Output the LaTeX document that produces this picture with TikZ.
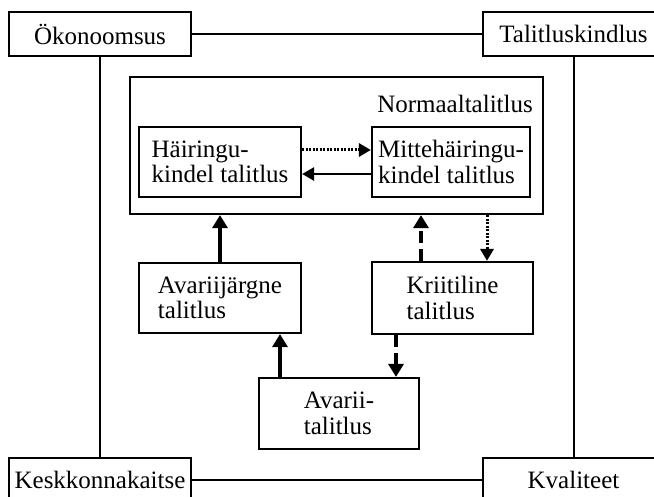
\documentclass[tikz,border=0pt]{standalone}
\usepackage{fontspec}
\setmainfont{Liberation Serif}
\usetikzlibrary{arrows.meta,calc}

\tikzset{
  labelfont/.style={font=\fontsize{25}{25.5}\selectfont},
  box/.style={draw, line width=2.2pt, inner sep=0pt, align=left, labelfont},
  link/.style={line width=2pt},
  bigtip/.style={-{Triangle[width=15pt,length=13pt]}},
  smalltip/.style={-{Triangle[width=13pt,length=12pt]}},
  strong/.style={bigtip, line width=4pt},
  strongdash/.style={bigtip, line width=4pt, dash pattern=on 12pt off 6pt},
  fine/.style={smalltip, line width=2.6pt},
  finedot/.style={smalltip, line width=3pt, dash pattern=on 2pt off 1.5pt},
}

\begin{document}
\begin{tikzpicture}[x=1pt,y=-1pt]
  \useasboundingbox (0,0) rectangle (654,497);
  \fill[white] (0,0) rectangle (654,497);
  \clip (0,0) rectangle (654,497);

  % quality attributes in the corners
  \node[box, minimum width=182pt, minimum height=44pt] (oko) at (100,34) {Ökonoomsus};
  \node[box, minimum width=181pt, minimum height=44pt] (tal) at (573.5,34) {Talitluskindlus};
  \node[box, minimum width=182pt, minimum height=44pt] (kesk) at (100,480) {Keskkonnakaitse};
  \node[box, minimum width=181pt, minimum height=44pt] (kval) at (573.5,480) {Kvaliteet};

  \draw[link] (oko.east) -- (tal.west);
  \draw[link] (kesk.east) -- (kval.west);
  \draw[link] (oko.south) -- (kesk.north);
  \draw[link] (tal.south) -- (kval.north);

  % normal operation with its two sub-states
  \node[box, minimum width=413pt, minimum height=137pt] (normal) at (336.5,145.5) {};
  \node[labelfont, anchor=east, inner sep=0pt] (normlabel) at (533,104) {Normaaltalitlus};
  \node[box, minimum width=162pt, minimum height=70pt] (hair) at (220,162) {Häiringu-\\kindel talitlus};
  \node[box, minimum width=158pt, minimum height=70pt] (mitte) at (451,162) {Mittehäiringu-\\kindel talitlus};

  % other operating states
  \node[box, minimum width=162pt, minimum height=70pt] (avj) at (220,298) {Avariijärgne\\talitlus};
  \node[box, minimum width=161pt, minimum height=72pt] (krit) at (452.5,298) {Kriitiline\\talitlus};
  \node[box, minimum width=160pt, minimum height=71pt] (avarii) at (339,413.5) {Avarii-\\talitlus};

  % transitions
  \draw[finedot] ([yshift=12pt]hair.east) -- ([yshift=12pt]hair.east -| mitte.west);
  \draw[fine] ([yshift=-12pt]mitte.west) -- ([yshift=-12pt]mitte.west -| hair.east);

  \draw[strong] (avj.north) -- (avj.north |- normal.south);
  \draw[strongdash] ([xshift=-31.5pt]krit.north) -- ([xshift=-31.5pt]krit.north |- normal.south);
  \draw[finedot] ([xshift=34.5pt]krit.north |- normal.south) -- ([xshift=34.5pt]krit.north);

  \draw[strong] ([xshift=-59pt]avarii.north) -- ([xshift=-59pt]avarii.north |- avj.south);
  \draw[strongdash] ([xshift=57pt]avarii.north |- krit.south) -- ([xshift=57pt]avarii.north);
\end{tikzpicture}
\end{document}
